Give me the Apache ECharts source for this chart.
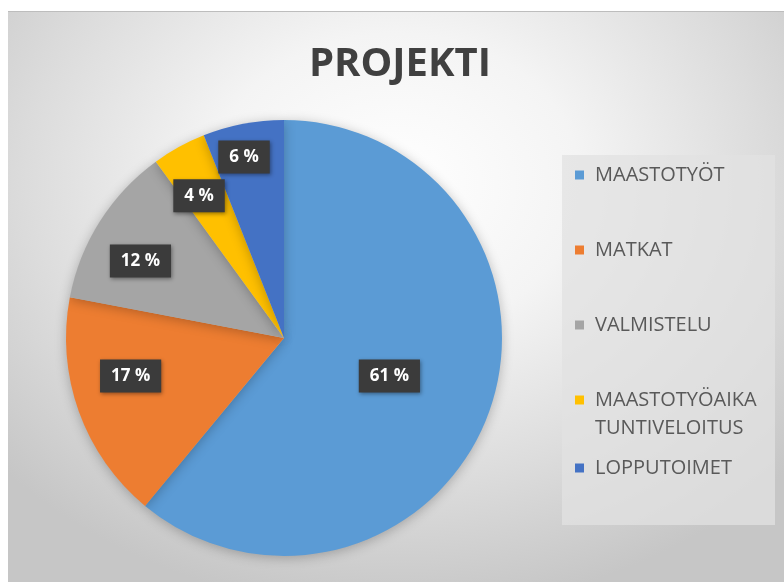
<!DOCTYPE html>
<html>
<head>
<meta charset="utf-8">
<script src="https://cdn.jsdelivr.net/npm/echarts@6/dist/echarts.min.js"></script>
<style>
  html, body { margin: 0; padding: 0; background: #fff; }
  #frame {
    position: absolute; left: 8px; top: 11px; width: 776px; height: 571px;
    border-top: 1px solid #bdbdbd;
    background: radial-gradient(ellipse 68% 75% at 50% 30%, #ffffff 0%, #f4f4f4 35%, #dcdcdc 70%, #c6c6c6 100%);
  }
  #chart { position: absolute; left: 0; top: 0; width: 784px; height: 582px; }
</style>
</head>
<body>
<div id="frame"></div>
<div id="chart"></div>
<script>
// 数据
const categories = ['MAASTOTYÖT', 'MATKAT', 'VALMISTELU', 'MAASTOTYÖAIKA TUNTIVELOITUS', 'LOPPUTOIMET'];
const values = [61, 17, 12, 4, 6];
const colors = ['#5B9BD5', '#ED7D31', '#A5A5A5', '#FFC000', '#4472C4'];

// 标签偏移 (Excel best fit)
const labelOffsets = [[0, 0], [-48, 0], [-49, -17], [-31, -44], [-19, -71]];
// 图例位置
const legendTops = [161, 236, 311, 358, 454];

const myChart = echarts.init(document.getElementById('chart'));

const legends = categories.map((name, i) => ({
  data: [name],
  orient: 'vertical',
  left: 575,
  top: legendTops[i],
  padding: 0,
  icon: 'rect',
  itemWidth: 9,
  itemHeight: 9,
  itemGap: 0,
  selectedMode: false,
  formatter: n => n === 'MAASTOTYÖAIKA TUNTIVELOITUS' ? '\nMAASTOTYÖAIKA\nTUNTIVELOITUS' : n,
  textStyle: {
    color: '#595959',
    fontSize: 20,
    lineHeight: 28,
    fontFamily: 'Open Sans',
    padding: [0, 0, 0, 6]
  }
}));

const option = {
  animation: false,
  title: {
    text: 'PROJEKTI',
    left: 309,
    top: 45,
    padding: 0,
    textStyle: {
      color: '#404040',
      fontSize: 40,
      fontWeight: 'bold',
      fontFamily: 'Open Sans'
    }
  },
  color: colors,
  legend: legends,
  graphic: [{
    type: 'rect',
    z: -1,
    shape: { x: 562, y: 155, width: 213, height: 370 },
    style: { fill: 'rgba(226,226,226,0.75)' }
  }],
  series: [{
    type: 'pie',
    center: [284, 338],
    radius: 218,
    startAngle: 90,
    clockwise: true,
    data: categories.map((name, i) => ({
      name: name,
      value: values[i],
      label: { offset: labelOffsets[i] }
    })),
    itemStyle: {
      shadowBlur: 12,
      shadowColor: 'rgba(0,0,0,0.25)',
      shadowOffsetY: 2
    },
    label: {
      show: true,
      position: 'inside',
      formatter: '{c} %',
      color: '#fff',
      fontWeight: 'bold',
      fontSize: 17,
      fontFamily: 'Open Sans',
      backgroundColor: '#3b3b3b',
      padding: [8, 11],
      shadowBlur: 4,
      shadowColor: 'rgba(0,0,0,0.4)',
      shadowOffsetX: 1,
      shadowOffsetY: 2
    },
    labelLine: { show: false },
    emphasis: { disabled: true }
  }]
};

myChart.setOption(option);
</script>
</body>
</html>
